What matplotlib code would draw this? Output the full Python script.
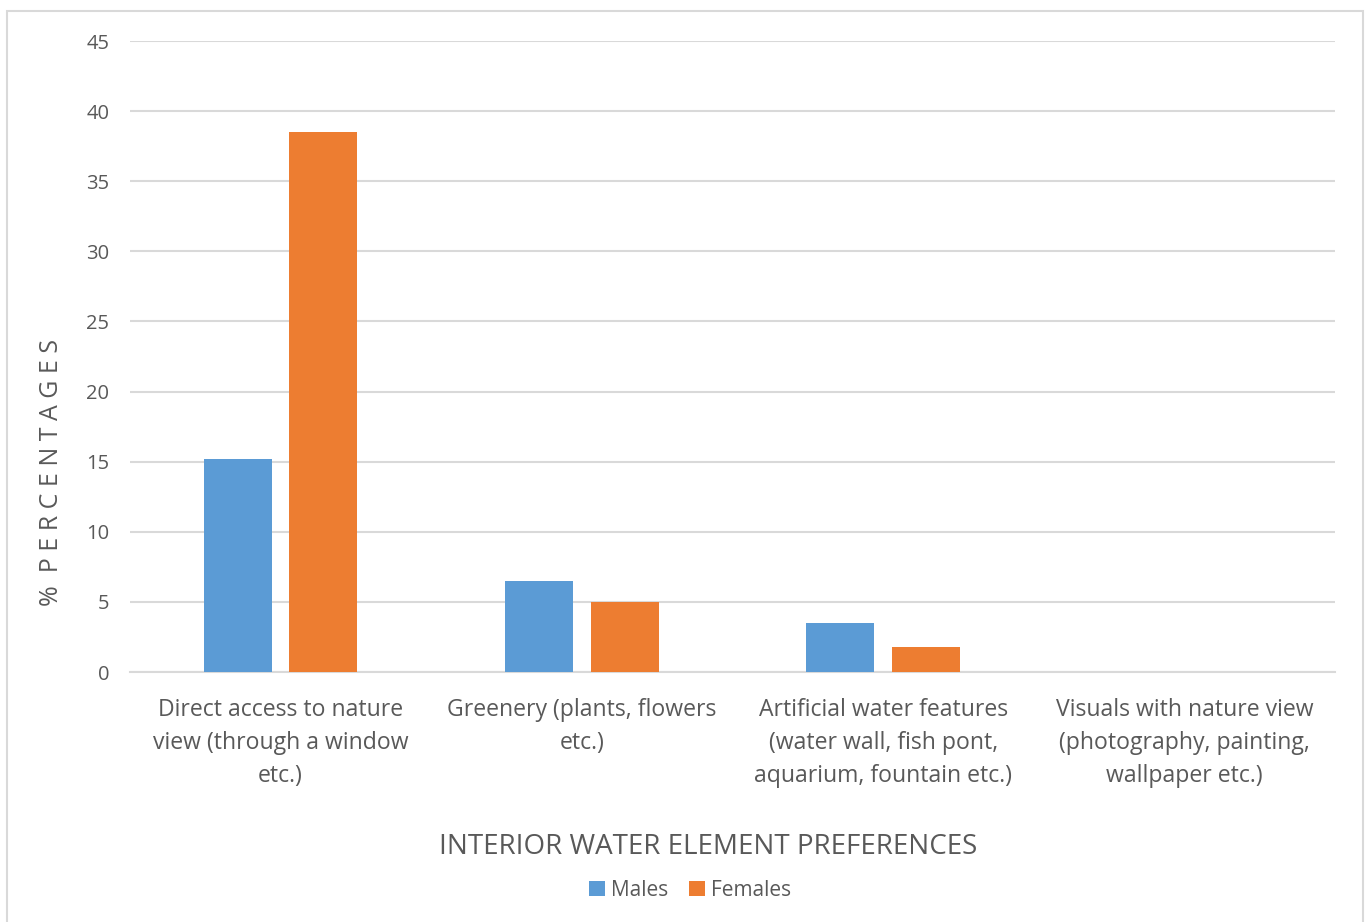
import matplotlib.pyplot as plt
import numpy as np
from matplotlib.patches import Rectangle

plt.rcParams["font.family"] = ["Open Sans", "DejaVu Sans"]

# Survey results (% of respondents)
categories = [
    "Direct access to nature\nview (through a window\netc.)",
    "Greenery (plants, flowers\netc.)",
    "Artificial water features\n(water wall, fish pont,\naquarium, fountain etc.)",
    "Visuals with nature view\n(photography, painting,\nwallpaper etc.)",
]
males = [15.2, 6.5, 3.5, 0]
females = [38.5, 5.0, 1.8, 0]
y_ticks = [0, 5, 10, 15, 20, 25, 30, 35, 40, 45]

text_color = "#595959"
grid_color = "#d9d9d9"
W, H = 1368, 922

fig = plt.figure(figsize=(13.68, 9.22), dpi=100)
ax = fig.add_axes([0.095, 0.2711, 0.8809, 0.6844])

x = np.arange(len(categories))
width = 0.226
offset = 0.142
ax.bar(x - offset, males, width, color="#5B9BD5", label="Males", zorder=3)
ax.bar(x + offset, females, width, color="#ED7D31", label="Females", zorder=3)

ax.set_xlim(-0.5, 3.5)
ax.set_ylim(0, 45)
ax.set_yticks(y_ticks)
ax.set_xticks(x)
ax.set_xticklabels(categories, fontsize=16.6, color=text_color, linespacing=1.5)
ax.tick_params(axis="y", labelsize=14.5, labelcolor=text_color, length=0, pad=15)
ax.tick_params(axis="x", length=0, pad=19)

ax.grid(axis="y", color=grid_color, linewidth=1.5, zorder=0)
for side in ["top", "right", "left"]:
    ax.spines[side].set_visible(False)
ax.spines["bottom"].set_color(grid_color)
ax.spines["bottom"].set_linewidth(1.5)

# axis titles
fig.text(52 / W, 1 - 472 / H, "%  P E R C E N T A G E S", rotation=90,
         ha="center", va="center", fontsize=18, color=text_color)
fig.text(708 / W, 1 - 847 / H, "INTERIOR WATER ELEMENT PREFERENCES",
         ha="center", va="center", fontsize=20, color=text_color)

fig.legend(loc="center", bbox_to_anchor=(690 / W, 1 - 890 / H), ncol=2,
           frameon=False, fontsize=15, labelcolor=text_color, handlelength=0.75,
           handleheight=0.75, handletextpad=0.3, columnspacing=1.0)

# light frame around the chart area
fig.patches.append(Rectangle((7 / W, -0.05), 1356 / W, 1.05 - 11 / H,
                             transform=fig.transFigure, fill=False,
                             edgecolor=grid_color, linewidth=1.5))

plt.savefig("out.png", dpi=100)
